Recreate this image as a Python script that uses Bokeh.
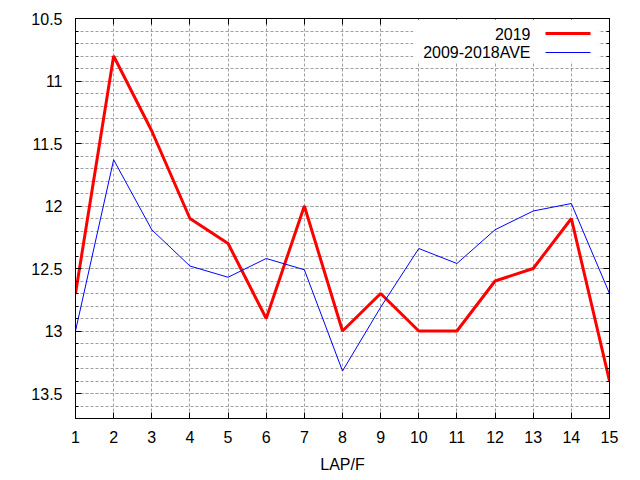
from bokeh.plotting import figure
from bokeh.models import (Range1d, FixedTicker, LinearAxis, CustomJSTickFormatter,
                          Label, BoxAnnotation)
from bokeh.embed import file_html
from bokeh.resources import INLINE

# ---- data ----
laps = [1, 2, 3, 4, 5, 6, 7, 8, 9, 10, 11, 12, 13, 14, 15]
y2019 = [12.7, 10.8, 11.4, 12.1, 12.3, 12.9, 12.0, 13.0, 12.7, 13.0, 13.0, 12.6, 12.5, 12.1, 13.4]
ave = [13.0, 11.63, 12.19, 12.48, 12.57, 12.42, 12.51, 13.32, 12.81, 12.34, 12.46, 12.19, 12.04, 11.98, 12.70]
y_major = [10.5, 11.0, 11.5, 12.0, 12.5, 13.0, 13.5]
y_minor = [round(10.5 + 0.1 * i, 1) for i in range(33)]
x_label = "LAP/F"
series_names = ["2019", "2009-2018AVE"]
series_colors = ["red", "blue"]
series_widths = [3, 1]

FONT = "Liberation Sans"
FS = "16px"

p = figure(width=640, height=480, output_backend="svg", toolbar_location=None,
           x_range=Range1d(1, 15), y_range=Range1d(13.7, 10.5),
           min_border_left=75, min_border_right=31, min_border_top=18, min_border_bottom=62)
p.background_fill_color = "white"
p.border_fill_color = "white"
p.outline_line_color = "black"
p.outline_line_width = 1

fmt = CustomJSTickFormatter(code="return String(Math.round(tick*10)/10);")

p.xaxis.ticker = FixedTicker(ticks=laps)
p.yaxis.ticker = FixedTicker(ticks=y_major, minor_ticks=y_minor)
p.yaxis.formatter = fmt

for ax in [p.xaxis[0], p.yaxis[0]]:
    ax.axis_line_color = "black"
    ax.major_tick_in = 6
    ax.major_tick_out = 0
    ax.minor_tick_in = 3
    ax.minor_tick_out = 0
    ax.major_tick_line_color = "black"
    ax.minor_tick_line_color = "black"
    ax.major_label_text_font = FONT
    ax.major_label_text_font_size = FS
    ax.major_label_text_color = "black"
p.xaxis[0].major_label_standoff = 12
p.yaxis[0].major_label_standoff = 13
p.xaxis[0].axis_label = x_label
p.xaxis[0].axis_label_text_font = FONT
p.xaxis[0].axis_label_text_font_size = FS
p.xaxis[0].axis_label_text_font_style = "normal"
p.xaxis[0].axis_label_text_color = "black"
p.xaxis[0].axis_label_standoff = 10

# mirrored axes (ticks only)
rax = LinearAxis(ticker=FixedTicker(ticks=y_major, minor_ticks=y_minor))
tax = LinearAxis(ticker=FixedTicker(ticks=laps))
for ax in [rax, tax]:
    ax.major_tick_in = 6
    ax.major_tick_out = 0
    ax.minor_tick_in = 3
    ax.minor_tick_out = 0
    ax.major_label_text_font_size = "0px"
    ax.major_label_text_color = None
    ax.major_label_standoff = 0
    ax.axis_line_color = "black"
p.add_layout(rax, "right")
p.add_layout(tax, "above")

# grids
for g in [p.xgrid[0], p.ygrid[0]]:
    g.grid_line_color = "#a0a0a0"
    g.grid_line_dash = "3 2"
    g.grid_line_width = 1
p.ygrid[0].minor_grid_line_color = "#a0a0a0"
p.ygrid[0].minor_grid_line_dash = "3 2"

p.line(laps, y2019, line_color=series_colors[0], line_width=series_widths[0])
p.line(laps, ave, line_color=series_colors[1], line_width=series_widths[1])

# gnuplot-style key: text right-aligned, sample line to the right (screen units from frame bottom-left)
p.add_layout(BoxAnnotation(left=338, right=523, bottom=357, top=399,
                           left_units="screen", right_units="screen",
                           bottom_units="screen", top_units="screen",
                           fill_color="white", fill_alpha=1, line_color=None))
key_y = [385, 366]
for name, col, w, ky in zip(series_names, series_colors, series_widths, key_y):
    p.add_layout(Label(x=455, y=ky, x_units="screen", y_units="screen", text=name,
                       text_align="right", text_baseline="middle",
                       text_font=FONT, text_font_size=FS, text_color="black"))
    p.add_layout(BoxAnnotation(left=470, right=515, bottom=ky - w / 2, top=ky + w / 2,
                               left_units="screen", right_units="screen",
                               bottom_units="screen", top_units="screen",
                               fill_color=col, fill_alpha=1, line_color=None))

open("out.html", "w").write(file_html(p, INLINE))
